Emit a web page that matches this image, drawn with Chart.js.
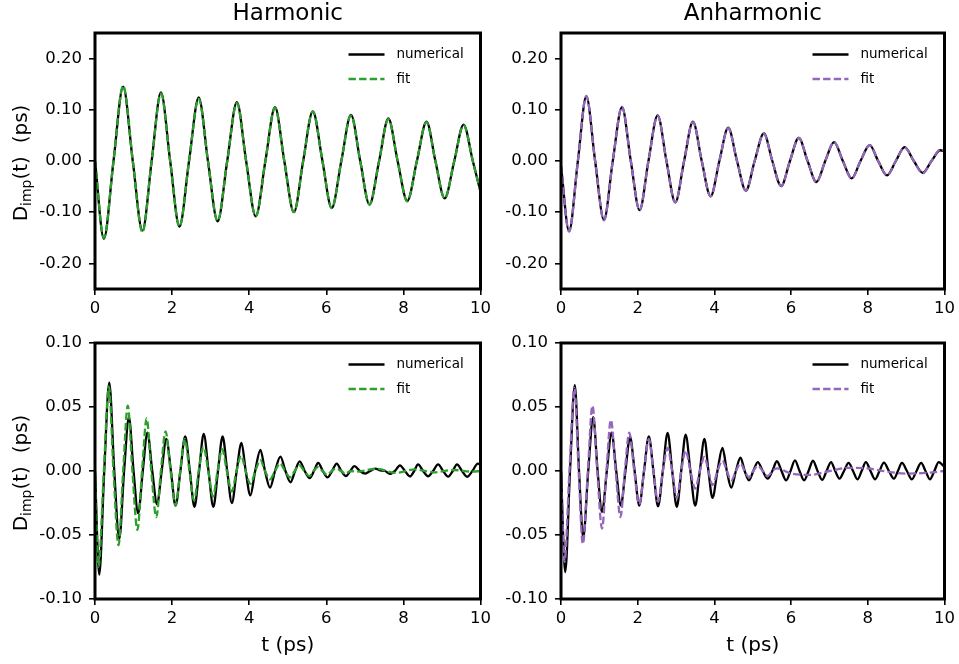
<!DOCTYPE html>
<html>
<head>
<meta charset="utf-8">
<script src="https://cdn.jsdelivr.net/npm/chart.js@4.4.0/dist/chart.umd.min.js"></script>
<style>
  html, body { margin: 0; padding: 0; background: #fff; }
  #wrap { position: relative; width: 959px; height: 664px; }
  canvas { position: absolute; }
</style>
</head>
<body>
<div id="wrap">
  <canvas id="harmTop" width="495" height="320" style="left:0;top:0"></canvas>
  <canvas id="anhTop" width="464" height="320" style="left:495px;top:0"></canvas>
  <canvas id="harmBot" width="495" height="344" style="left:0;top:320px"></canvas>
  <canvas id="anhBot" width="464" height="344" style="left:495px;top:320px"></canvas>
</div>
<script>
// tick labels
const xTicks = [0, 2, 4, 6, 8, 10];
const yTicksTop = [-0.2, -0.1, 0, 0.1, 0.2];
const yTicksBottom = [-0.1, -0.05, 0, 0.05, 0.1];

// [t (ps), D_imp (ps)]: extrema and zero crossings
const harmTopNumerical = [[0,0],[0.23,-0.152],[0.48,0],[0.73,0.145],[0.98,0],[1.23,-0.136],[1.47,0],[1.71,0.134],[1.95,0],[2.19,-0.128],[2.44,0],[2.69,0.124],[2.93,0],[3.18,-0.118],[3.43,0],[3.68,0.115],[3.92,0],[4.17,-0.108],[4.42,0],[4.67,0.105],[4.91,0],[5.16,-0.100],[5.40,0],[5.65,0.097],[5.90,0],[6.14,-0.092],[6.39,0],[6.64,0.090],[6.88,0],[7.12,-0.085],[7.37,0],[7.61,0.083],[7.85,0],[8.10,-0.078],[8.35,0],[8.60,0.077],[8.83,0],[9.07,-0.073],[9.32,0],[9.56,0.071],[9.80,0],[10,-0.060]];
const harmTopFit = [[0,0],[0.23,-0.150],[0.48,0],[0.73,0.147],[0.98,0],[1.23,-0.139],[1.47,0],[1.71,0.132],[1.95,0],[2.19,-0.128],[2.44,0],[2.69,0.122],[2.93,0],[3.18,-0.117],[3.43,0],[3.68,0.113],[3.92,0],[4.17,-0.108],[4.42,0],[4.67,0.104],[4.91,0],[5.16,-0.100],[5.40,0],[5.65,0.097],[5.90,0],[6.14,-0.092],[6.39,0],[6.64,0.089],[6.88,0],[7.12,-0.085],[7.37,0],[7.61,0.082],[7.85,0],[8.10,-0.079],[8.35,0],[8.60,0.076],[8.83,0],[9.07,-0.073],[9.32,0],[9.56,0.070],[9.80,0],[10,-0.060]];

const anhTopNumerical = [[0,-0.01],[0.21,-0.137],[0.44,0],[0.66,0.126],[0.89,0],[1.12,-0.115],[1.35,0],[1.59,0.105],[1.82,0],[2.05,-0.096],[2.28,0],[2.52,0.089],[2.75,0],[2.98,-0.081],[3.21,0],[3.44,0.077],[3.67,0],[3.90,-0.069],[4.13,0],[4.36,0.065],[4.59,0],[4.82,-0.058],[5.05,0],[5.29,0.054],[5.51,0],[5.74,-0.049],[5.97,0],[6.20,0.045],[6.43,0],[6.66,-0.041],[6.89,0],[7.12,0.037],[7.35,0],[7.58,-0.034],[7.81,0],[8.05,0.031],[8.27,0],[8.50,-0.028],[8.73,0],[8.96,0.027],[9.20,0],[9.43,-0.023],[9.66,0],[9.89,0.021],[10,0.019]];
const anhTopFit = [[0,-0.01],[0.21,-0.138],[0.44,0],[0.66,0.127],[0.89,0],[1.12,-0.116],[1.35,0],[1.59,0.106],[1.82,0],[2.05,-0.096],[2.28,0],[2.52,0.088],[2.75,0],[2.98,-0.081],[3.21,0],[3.44,0.076],[3.67,0],[3.90,-0.069],[4.13,0],[4.36,0.064],[4.59,0],[4.82,-0.058],[5.05,0],[5.29,0.053],[5.51,0],[5.74,-0.049],[5.97,0],[6.20,0.045],[6.43,0],[6.66,-0.041],[6.89,0],[7.12,0.037],[7.35,0],[7.58,-0.034],[7.81,0],[8.05,0.031],[8.27,0],[8.50,-0.028],[8.73,0],[8.96,0.026],[9.20,0],[9.43,-0.024],[9.66,0],[9.89,0.022],[10,0.020]];

const harmBotNumerical = [[0,0],[0.11,-0.081],[0.24,0],[0.37,0.069],[0.50,0],[0.63,-0.053],[0.755,0],[0.88,0.042],[1.00,0],[1.12,-0.033],[1.24,0],[1.36,0.030],[1.485,0],[1.61,-0.026],[1.73,0],[1.85,0.025],[1.97,0],[2.09,-0.027],[2.215,0],[2.34,0.027],[2.46,0],[2.58,-0.028],[2.70,0],[2.82,0.029],[2.945,0],[3.07,-0.028],[3.19,0],[3.31,0.027],[3.43,0],[3.55,-0.025],[3.675,0],[3.80,0.022],[3.91,0],[4.03,-0.019],[4.155,0],[4.29,0.0165],[4.41,0],[4.54,-0.013],[4.67,0],[4.81,0.0113],[4.94,0],[5.07,-0.0088],[5.19,0],[5.31,0.0075],[5.44,0],[5.57,-0.0055],[5.68,0],[5.79,0.0063],[5.91,0],[6.03,-0.005],[6.15,0],[6.27,0.0058],[6.39,0],[6.51,-0.004],[6.62,0],[6.73,0.0038],[6.87,0],[7.01,-0.002],[7.14,0],[7.27,0.0019],[7.40,0.0004],[7.52,0],[7.65,-0.0022],[7.78,0],[7.91,0.0044],[8.04,0],[8.17,-0.0042],[8.28,0],[8.38,0.0052],[8.51,0],[8.64,-0.0042],[8.77,0],[8.90,0.0052],[9.03,0],[9.16,-0.0044],[9.28,0],[9.39,0.0052],[9.52,0],[9.65,-0.0045],[9.79,0],[9.93,0.0058],[10,0.005]];
const harmBotFit = [[0,0],[0.09,-0.075],[0.23,0],[0.36,0.066],[0.48,0],[0.61,-0.058],[0.73,0],[0.85,0.051],[0.97,0],[1.10,-0.046],[1.22,0],[1.34,0.041],[1.46,0],[1.59,-0.036],[1.71,0],[1.83,0.031],[1.96,0],[2.09,-0.027],[2.21,0],[2.33,0.025],[2.45,0],[2.57,-0.023],[2.69,0],[2.81,0.019],[2.94,0],[3.06,-0.020],[3.18,0],[3.30,0.017],[3.42,0],[3.55,-0.016],[3.67,0],[3.79,0.012],[3.91,0],[4.03,-0.010],[4.16,0],[4.29,0.0085],[4.41,0],[4.54,-0.0065],[4.67,0],[4.80,0.006],[4.93,0],[5.06,-0.005],[5.18,0],[5.30,0.0045],[5.43,0],[5.56,-0.004],[5.67,0],[5.78,0.003],[5.90,0],[6.02,-0.003],[6.14,0],[6.26,0.002],[6.38,0],[6.50,-0.002],[6.62,0],[6.80,-0.0005],[7.30,0.0018],[7.80,-0.0015],[8.30,0.0012],[8.80,-0.001],[9.30,0.0008],[9.80,-0.0005],[10,0]];

const anhBotNumerical = [[0,0],[0.11,-0.079],[0.235,0],[0.36,0.067],[0.47,0],[0.58,-0.052],[0.71,0],[0.84,0.042],[0.955,0],[1.07,-0.032],[1.195,0],[1.32,0.030],[1.44,0],[1.56,-0.027],[1.68,0],[1.80,0.0266],[1.92,0],[2.04,-0.027],[2.165,0],[2.29,0.027],[2.41,0],[2.53,-0.0276],[2.655,0],[2.78,0.0297],[2.90,0],[3.02,-0.028],[3.135,0],[3.25,0.0284],[3.375,0],[3.50,-0.027],[3.62,0],[3.74,0.025],[3.845,0],[3.95,-0.021],[4.08,0],[4.21,0.018],[4.325,0],[4.44,-0.013],[4.56,0],[4.68,0.0104],[4.79,0],[4.90,-0.0073],[5.015,0],[5.13,0.007],[5.26,0],[5.39,-0.006],[5.51,0],[5.63,0.0076],[5.75,0],[5.87,-0.0073],[5.985,0],[6.10,0.0083],[6.22,0],[6.34,-0.0073],[6.455,0],[6.57,0.008],[6.69,0],[6.81,-0.007],[6.925,0],[7.04,0.007],[7.15,0],[7.26,-0.006],[7.38,0],[7.50,0.0063],[7.615,0],[7.73,-0.0065],[7.84,0],[7.95,0.007],[8.07,0],[8.19,-0.0065],[8.305,0],[8.42,0.0065],[8.55,0],[8.68,-0.006],[8.785,0],[8.89,0.0063],[9.02,0],[9.15,-0.0065],[9.27,0],[9.39,0.0063],[9.505,0],[9.62,-0.0065],[9.735,0],[9.85,0.007],[10,0.003]];
const anhBotFit = [[0,0],[0.09,-0.071],[0.22,0],[0.35,0.065],[0.46,0],[0.57,-0.057],[0.70,0],[0.82,0.051],[0.945,0],[1.07,-0.045],[1.185,0],[1.30,0.040],[1.425,0],[1.55,-0.036],[1.665,0],[1.78,0.030],[1.91,0],[2.04,-0.026],[2.165,0],[2.29,0.025],[2.41,0],[2.53,-0.024],[2.655,0],[2.78,0.018],[2.90,0],[3.02,-0.021],[3.135,0],[3.25,0.016],[3.375,0],[3.50,-0.0138],[3.62,0],[3.74,0.011],[3.845,0],[3.95,-0.011],[4.08,0],[4.21,0.008],[4.325,0],[4.44,-0.0073],[4.56,0],[4.68,0.006],[4.79,0],[4.90,-0.005],[5.015,0],[5.13,0.004],[5.26,0],[5.39,-0.004],[5.51,0],[5.63,0.002],[6.00,-0.002],[6.50,-0.003],[7.00,0],[7.50,0.0025],[8.00,0.002],[8.50,-0.0005],[9.00,-0.002],[9.50,-0.0015],[10,0]];

const green = '#2ca02c';
const purple = '#9467bd';

Chart.defaults.font.family = "'DejaVu Sans', sans-serif";
Chart.defaults.color = '#000';

// frame, titles, axis labels and in-plot legend
const decor = {
  id: 'decor',
  afterDraw(chart, args, o) {
    const ctx = chart.ctx;
    const ca = chart.chartArea;
    ctx.save();
    ctx.strokeStyle = '#000';
    ctx.lineWidth = 3;
    ctx.strokeRect(ca.left, ca.top, ca.right - ca.left, ca.bottom - ca.top);
    ctx.fillStyle = '#000';
    const cx = (ca.left + ca.right) / 2;
    if (o.title) {
      ctx.font = '23px "DejaVu Sans"';
      ctx.textAlign = 'center';
      ctx.textBaseline = 'middle';
      ctx.fillText(o.title, cx, o.titleY);
    }
    if (o.xLabel) {
      ctx.font = '20px "DejaVu Sans"';
      ctx.textAlign = 'center';
      ctx.textBaseline = 'middle';
      ctx.fillText(o.xLabel, cx, o.xLabelY);
    }
    if (o.yLabel) {
      const parts = [['D', 20, 0], ['imp', 14, 5], ['(t)  (ps)', 20, 0]];
      let total = 0;
      parts.forEach(p => { ctx.font = p[1] + 'px "DejaVu Sans"'; total += ctx.measureText(p[0]).width; });
      ctx.translate(o.yLabelX, (ca.top + ca.bottom) / 2 + 2);
      ctx.rotate(-Math.PI / 2);
      ctx.textAlign = 'left';
      ctx.textBaseline = 'middle';
      let x = -total / 2;
      parts.forEach(p => {
        ctx.font = p[1] + 'px "DejaVu Sans"';
        ctx.fillText(p[0], x, p[2]);
        x += ctx.measureText(p[0]).width;
      });
      ctx.setTransform(1, 0, 0, 1, 0, 0);
    }
    chart.data.datasets.forEach((ds, i) => {
      const y = ca.top + 21.5 + i * 24.5;
      ctx.beginPath();
      ctx.setLineDash(ds.borderDash || []);
      ctx.lineWidth = ds.borderWidth;
      ctx.strokeStyle = ds.borderColor;
      ctx.moveTo(ca.right - 132, y);
      ctx.lineTo(ca.right - 96, y);
      ctx.stroke();
      ctx.setLineDash([]);
      ctx.font = '13.5px "DejaVu Sans"';
      ctx.textAlign = 'left';
      ctx.textBaseline = 'middle';
      ctx.fillText(ds.label, ca.right - 84, y);
    });
    ctx.restore();
  }
};

function toPoints(arr) {
  return arr.map(p => ({ x: p[0], y: p[1] }));
}

function makeChart(id, numerical, fit, fitColor, yTicks, yLim, yWidth, xHeight, padTop, padRight, deco) {
  return new Chart(document.getElementById(id), {
    type: 'line',
    data: {
      datasets: [
        {
          label: 'numerical',
          data: toPoints(numerical),
          borderColor: '#000',
          borderWidth: 2.3,
          order: 1,
        },
        {
          label: 'fit',
          data: toPoints(fit),
          borderColor: fitColor,
          borderWidth: 2.3,
          borderDash: [7.4, 3.2],
          order: 0,
        },
      ],
    },
    options: {
      responsive: false,
      animation: false,
      devicePixelRatio: 1,
      layout: { padding: { top: padTop, right: padRight, left: 0, bottom: 0 } },
      elements: {
        point: { radius: 0 },
        line: { cubicInterpolationMode: 'monotone', fill: false },
      },
      plugins: {
        legend: { display: false },
        tooltip: { enabled: false },
        decor: deco,
      },
      scales: {
        x: {
          type: 'linear',
          min: 0,
          max: 10,
          afterBuildTicks: s => { s.ticks = xTicks.map(v => ({ value: v })); },
          afterFit: s => { s.height = xHeight; },
          ticks: { font: { size: 16.5 }, padding: 4, maxRotation: 0, callback: v => String(v) },
          grid: { drawOnChartArea: false, drawTicks: true, tickLength: 6, color: '#000', lineWidth: 1.6 },
          border: { display: false },
        },
        y: {
          min: yLim[0],
          max: yLim[1],
          afterBuildTicks: s => { s.ticks = yTicks.map(v => ({ value: v })); },
          afterFit: s => { s.width = yWidth; },
          ticks: { font: { size: 16.5 }, padding: 7, callback: v => v.toFixed(2) },
          grid: { drawOnChartArea: false, drawTicks: true, tickLength: 6, color: '#000', lineWidth: 1.6 },
          border: { display: false },
        },
      },
    },
    plugins: [decor],
  });
}

makeChart('harmTop', harmTopNumerical, harmTopFit, green, yTicksTop, [-0.25, 0.25], 95, 31, 33, 12,
  { title: 'Harmonic', titleY: 14, yLabel: true, yLabelX: 22 });
makeChart('anhTop', anhTopNumerical, anhTopFit, purple, yTicksTop, [-0.25, 0.25], 66, 31, 33, 10,
  { title: 'Anharmonic', titleY: 14 });
makeChart('harmBot', harmBotNumerical, harmBotFit, green, yTicksBottom, [-0.1, 0.1], 95, 65, 23, 12,
  { xLabel: 't (ps)', xLabelY: 326, yLabel: true, yLabelX: 22 });
makeChart('anhBot', anhBotNumerical, anhBotFit, purple, yTicksBottom, [-0.1, 0.1], 66, 65, 23, 10,
  { xLabel: 't (ps)', xLabelY: 326 });
</script>
</body>
</html>
